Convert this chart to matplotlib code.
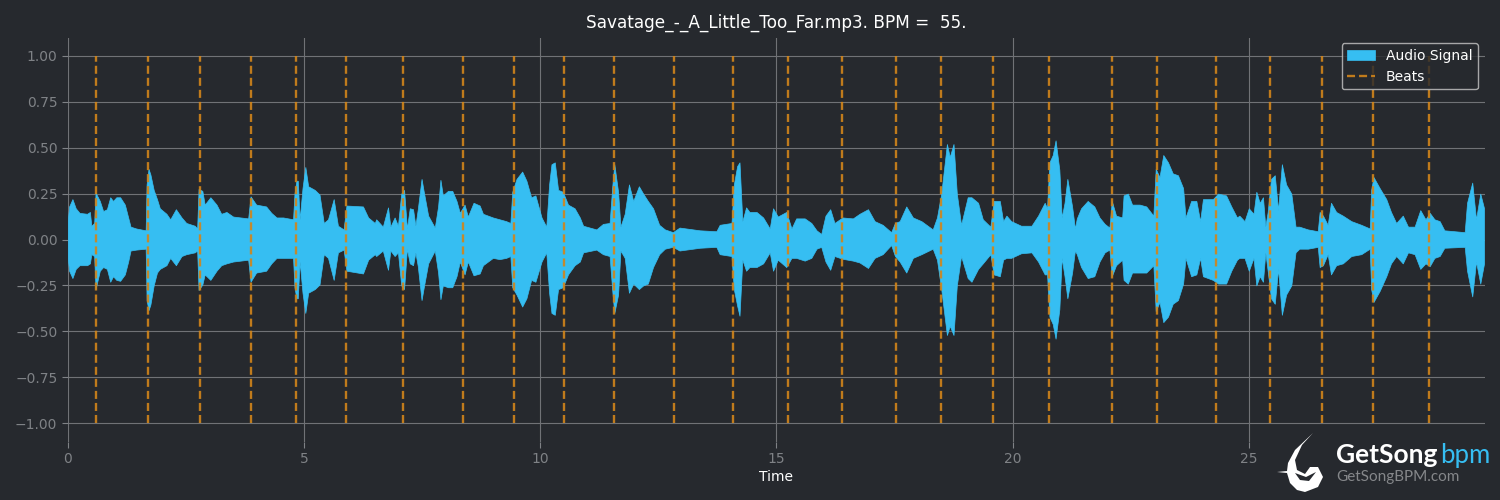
import numpy as np
import matplotlib
matplotlib.use("Agg")
from matplotlib import pyplot as plt
from matplotlib.patches import Polygon

title = "Savatage_-_A_Little_Too_Far.mp3. BPM =  55."

# enveloppe du signal : temps (s), haut, bas
wave_t = [0, .03, .10, .17, .25, .41, .47, .50, .56, .59, .68, .75, .83, .90, .96, 1.03, 1.11, 1.21, 1.28, 1.33, 1.45, 1.65, 1.67, 1.71, 1.75, 1.82, 1.89, 1.95, 2.09, 2.17, 2.29, 2.41, 2.51, 2.69, 2.74, 2.77, 2.85, 2.90, 3.02, 3.15, 3.25, 3.36, 3.50, 3.82, 3.87, 3.99, 4.20, 4.31, 4.42, 4.56, 4.77, 4.80, 4.84, 4.87, 4.91, 4.97, 5.03, 5.09, 5.23, 5.33, 5.42, 5.51, 5.63, 5.72, 5.84, 5.90, 6.25, 6.36, 6.50, 6.53, 6.67, 6.78, 6.83, 6.92, 6.99, 7.06, 7.12, 7.18, 7.24, 7.31, 7.36, 7.41, 7.49, 7.53, 7.63, 7.77, 7.84, 7.89, 7.94, 8.05, 8.14, 8.23, 8.30, 8.40, 8.47, 8.59, 8.72, 8.79, 9.00,
          9.14, 9.28, 9.37, 9.41, 9.50, 9.62, 9.71, 9.81, 9.90, 10.03, 10.13, 10.19, 10.24, 10.31, 10.38, 10.48, 10.59, 10.73, 10.84, 10.91, 11.19, 11.33, 11.47, 11.53, 11.57, 11.65, 11.70, 11.79, 11.88, 11.97, 12.09, 12.18, 12.28, 12.39, 12.52, 12.64, 12.81, 12.95, 13.38, 13.73, 13.80, 14.05, 14.10, 14.17, 14.22, 14.28, 14.36, 14.43, 14.58, 14.72, 14.86, 14.93, 15.03, 15.21, 15.32, 15.42, 15.60, 15.74, 15.85, 15.95, 16.04, 16.14, 16.23, 16.40, 16.62, 16.76, 16.94, 17.08, 17.25, 17.43, 17.51, 17.61, 17.75, 17.89, 18.07, 18.31, 18.40, 18.49, 18.61, 18.67, 18.75, 18.82, 18.91, 19.05, 19.13, 19.27, 19.37, 19.53, 19.60,
          19.73, 19.80, 19.87, 19.97, 20.18, 20.40, 20.54, 20.68, 20.73, 20.78, 20.85, 20.91, 20.99, 21.04, 21.10, 21.16, 21.26, 21.32, 21.36, 21.45, 21.59, 21.73, 21.84, 21.95, 22.05, 22.10, 22.19, 22.32, 22.35, 22.44, 22.53, 22.69, 22.83, 22.98, 23.03, 23.11, 23.19, 23.29, 23.39, 23.50, 23.61, 23.66, 23.78, 23.89, 23.97, 24.03, 24.24, 24.35, 24.52, 24.63, 24.75, 24.80, 24.91, 25.00, 25.10, 25.16, 25.23, 25.30, 25.35, 25.40, 25.47, 25.55, 25.62, 25.70, 25.79, 25.90, 25.99, 26.07, 26.25, 26.46, 26.50, 26.57, 26.67, 26.74, 26.85, 26.99, 27.17, 27.38, 27.56, 27.59, 27.64, 27.77, 27.91, 28.01, 28.12, 28.26, 28.37, 28.51, 28.63, 28.74, 28.83, 28.93, 29.04, 29.14, 29.57, 29.62, 29.73, 29.81, 29.90, 29.98]
wave_top = [.10, .18, .22, .17, .145, .14, .15, .075, .09, .255, .21, .155, .165, .23, .21, .23, .23, .19, .12, .07, .06, .05, .30, .385, .355, .27, .22, .17, .14, .11, .165, .12, .09, .075, .06, .275, .265, .19, .23, .19, .14, .15, .125, .115, .235, .19, .18, .145, .12, .12, .11, .25, .32, .32, .11, .28, .395, .29, .27, .245, .09, .11, .22, .075, .055, .185, .18, .12, .09, .11, .07, .175, .07, .12, .075, .25, .27, .06, .17, .165, .075, .165, .33, .27, .13, .065, .18, .325, .24, .265, .265, .21, .145, .19, .125, .20, .185, .14, .12,
            .11, .10, .09, .26, .33, .37, .32, .23, .24, .12, .07, .30, .41, .42, .27, .26, .19, .17, .12, .075, .055, .085, .09, .30, .41, .26, .07, .14, .30, .21, .29, .25, .21, .17, .08, .055, .04, .065, .05, .045, .08, .09, .30, .40, .42, .10, .175, .15, .15, .12, .06, .17, .125, .15, .06, .115, .115, .09, .05, .03, .13, .165, .09, .12, .115, .14, .165, .10, .08, .04, .09, .10, .18, .12, .10, .055, .12, .25, .52, .45, .52, .25, .08, .23, .23, .20, .11, .07, .21,
            .21, .10, .13, .10, .075, .075, .13, .20, .17, .42, .46, .54, .38, .12, .20, .33, .18, .06, .115, .17, .21, .18, .12, .085, .065, .21, .13, .12, .24, .25, .19, .19, .18, .13, .385, .34, .46, .42, .36, .35, .28, .12, .21, .21, .10, .22, .22, .25, .24, .18, .12, .13, .10, .17, .14, .26, .20, .23, .07, .15, .33, .35, .16, .41, .30, .25, .07, .07, .055, .045, .15, .13, .08, .20, .15, .13, .10, .08, .06, .27, .34, .28, .22, .15, .09, .13, .07, .07, .16, .11, .145, .11, .10, .05, .04, .20, .31, .11, .25, .17]
wave_bot = [.10, .17, .21, .16, .14, .14, .13, .08, .09, .27, .17, .15, .16, .23, .20, .22, .225, .19, .12, .06, .055, .05, .33, .385, .355, .25, .18, .16, .14, .10, .14, .09, .08, .07, .06, .275, .245, .19, .22, .17, .14, .13, .12, .11, .23, .18, .17, .13, .10, .10, .10, .26, .32, .32, .12, .29, .40, .29, .27, .245, .08, .10, .22, .07, .055, .17, .185, .11, .08, .09, .06, .165, .06, .09, .07, .25, .27, .05, .13, .14, .07, .145, .33, .27, .13, .06, .18, .325, .25, .26, .26, .20, .12, .19, .12, .195, .185, .14, .10,
            .107, .10, .09, .26, .30, .365, .32, .22, .23, .12, .07, .29, .40, .41, .27, .26, .19, .14, .12, .07, .055, .08, .09, .29, .40, .30, .06, .10, .29, .24, .27, .25, .24, .15, .08, .05, .04, .06, .045, .04, .08, .09, .27, .36, .415, .11, .17, .15, .15, .13, .07, .17, .11, .15, .10, .10, .115, .10, .05, .04, .12, .165, .09, .105, .115, .125, .155, .10, .08, .03, .09, .12, .18, .10, .08, .05, .11, .27, .52, .47, .52, .25, .09, .21, .23, .16, .13, .08, .19,
            .20, .11, .10, .10, .075, .07, .12, .19, .19, .42, .46, .54, .38, .10, .20, .32, .18, .06, .08, .15, .21, .20, .12, .07, .055, .20, .14, .11, .22, .24, .18, .18, .18, .14, .39, .34, .45, .42, .35, .33, .24, .10, .20, .19, .10, .20, .22, .24, .24, .17, .11, .10, .10, .17, .10, .25, .20, .23, .07, .17, .32, .35, .16, .41, .30, .25, .07, .05, .05, .04, .15, .14, .08, .19, .14, .13, .09, .08, .05, .27, .34, .28, .20, .13, .09, .13, .07, .08, .16, .13, .145, .10, .09, .045, .04, .17, .31, .12, .24, .13]

beats = [0.59, 1.69, 2.79, 3.87, 4.84, 5.90, 7.09, 8.36, 9.44, 10.50, 11.56, 12.83, 14.09, 15.24, 16.40, 17.54, 18.48, 19.58, 20.78, 22.11, 23.06, 24.30, 25.45, 26.54, 27.62, 28.82]

x_ticks = [0, 5, 10, 15, 20, 25]
y_ticks = [-1.0, -0.75, -0.5, -0.25, 0, 0.25, 0.5, 0.75, 1.0]

fond = "#26292e"
bleu = "#36bef2"
gris = "#7f8286"

fig = plt.figure(figsize=(15, 5), dpi=100, facecolor=fond)
ax = fig.add_axes([67.7/1500, 1-441.5/500, (1485-67.7)/1500, (441.5-37.5)/500], facecolor=fond)

ax.fill_between(wave_t, wave_top, -np.array(wave_bot), color=bleu, lw=0.5, label="Audio Signal", zorder=2)
ax.vlines(beats, -1, 1, color="#d2851a", alpha=0.9, linestyle=(0, (3.4, 1.7)), lw=1.7, label="Beats", zorder=3)

ax.set_xlim(0, 30)
ax.set_ylim(-1.1, 1.1)
ax.set_xticks(x_ticks)
ax.set_yticks(y_ticks)
ax.set_yticklabels(["\u22121.00", "\u22120.75", "\u22120.50", "\u22120.25", "0.00", "0.25", "0.50", "0.75", "1.00"])
ax.tick_params(colors=gris, labelsize=10, length=4, width=0.8)
ax.grid(True, color="#707276", lw=0.8)
ax.set_axisbelow(True)
for s in ax.spines.values():
    s.set_visible(False)

ax.set_xlabel("Time", color="white", fontsize=10, labelpad=3)
ax.set_title(title, color="white", fontsize=12.2, pad=7)

leg = ax.legend(loc="upper right", facecolor=fond, edgecolor="#c8c8c8", framealpha=0.8, fontsize=10,
                bbox_to_anchor=(0.9972, 0.9924), borderaxespad=0.2)
for t in leg.get_texts():
    t.set_color("white")

# logo en bas a droite, en pixels de la figure
def px(x, y):
    return (x/1500, 1-y/500)

oiseau = [(1313, 433), (1295, 450), (1288, 463), (1287, 471), (1277, 472), (1287, 473), (1290, 483), (1297, 490), (1305, 492), (1318, 487), (1323, 477), (1318, 467), (1310, 467), (1305, 474), (1297, 470), (1295, 460), (1302, 445)]
creux = [(1295, 473), (1306, 477), (1316, 472), (1309, 481), (1300, 480)]
fig.add_artist(Polygon([px(*p) for p in oiseau], closed=True, transform=fig.transFigure, fc="white", ec="none"))
fig.add_artist(Polygon([px(*p) for p in creux], closed=True, transform=fig.transFigure, fc=fond, ec="none"))

fig.text(1336/1500, 1-463/500, "GetSong", color="white", fontsize=19, fontweight="bold", family="Lato")
fig.text(1440/1500, 1-463/500, "bpm", color="#36bef2", fontsize=18.5, family="Lato")
fig.text(1336/1500, 1-481/500, "GetSongBPM.com", color="#85878a", fontsize=11, family="Lato")

fig.savefig("out.png", dpi=100, facecolor=fond)
